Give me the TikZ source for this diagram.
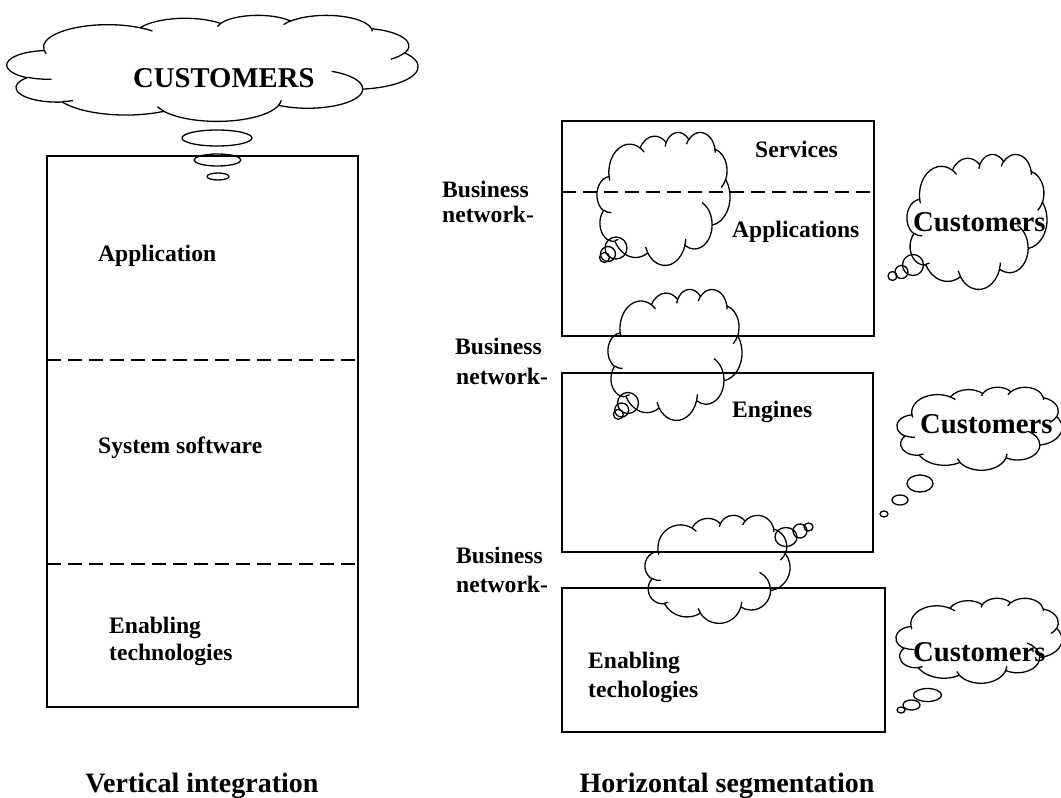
\documentclass[tikz,border=0pt]{standalone}
\usepackage{fontspec}
\setmainfont{Liberation Serif}
% elliptical arc given by visual start angle and sweep (degrees), radii w and h
\newcommand\oarc[4]{arc[start angle={vp(#3,#1,#2)}, end angle={vp(#3+#4,#1,#2)}, x radius=#1, y radius=#2]}
% cloud outline with its inner creases, fitted into the box (#1,#2)-(#3,#4)
\newcommand\cloudshape[4]{%
  \begin{scope}[shift={(#1,#2)}, xscale={(#3-#1)/43.2}, yscale={(#4-#2)/43.2}]
    \draw[cloudline] (3.9,14.37)
      \oarc{6.753}{9.19}{-190.48748}{123.78053}
      \oarc{5.333}{7.267}{-144.10238}{89.94523}
      \oarc{4.365}{5.945}{-145.80792}{99.72302}
      \oarc{4.857}{6.595}{-130.98607}{117.24173}
      \oarc{5.333}{7.273}{-78.70888}{109.02692}
      \oarc{6.775}{9.22}{-46.26725}{130.269}
      \oarc{5.785}{7.867}{0.62502}{114.03333}
      \oarc{6.752}{9.215}{22.4516}{115.17255}
      \oarc{7.72}{10.543}{66.24263}{75.71102}
      \oarc{4.36}{5.918}{-274.94208}{146.73557}
      \oarc{4.345}{5.945}{-246.8285}{152.51885} -- cycle;
    \draw[cloudline]
      (4.693,26.177) \oarc{4.345}{5.945}{86.742}{26.4295}
      (6.928,34.899) \oarc{4.36}{5.918}{73.61047}{11.44747}
      (16.478,39.09) \oarc{6.752}{9.215}{137.62415}{14.0811}
      (28.827,34.751) \oarc{6.752}{9.215}{6.45327}{15.99835}
      (34.129,22.954) \oarc{5.785}{7.867}{-70.29235}{70.91737}
      (41.798,15.354) \oarc{5.333}{7.273}{30.31803}{27.7515}
      (38.324,5.426) \oarc{4.857}{6.595}{-13.74433}{14.8589}
      (29.078,3.952) \oarc{4.857}{6.595}{-149.18145}{18.19537}
      (22.141,4.72) \oarc{4.365}{5.945}{-163.49427}{17.68635}
      (14.0,5.192) \oarc{6.753}{9.19}{-66.70695}{12.31935}
      (4.127,15.789) \oarc{6.753}{9.19}{157.65435}{11.85817};
  \end{scope}}
\begin{document}
\begin{tikzpicture}[x=1pt, y=1pt, yscale=-1,
  frame/.style={draw, line width=1.4pt},
  divider/.style={line width=1.8pt, dash pattern=on 13.5pt off 7.5pt},
  cloudline/.style={line width=1.3pt, line join=round},
  lbl/.style={font=\fontsize{23.6}{26}\selectfont\bfseries, inner sep=0pt, anchor=base west},
  big/.style={font=\fontsize{28.7}{32}\selectfont\bfseries, inner sep=0pt, anchor=base west},
  title/.style={font=\fontsize{28}{32}\selectfont\bfseries, inner sep=0pt, anchor=base},
  declare function={vp(\angA,\radW,\radH)=atan2(\radW*sin(\angA),\radH*cos(\angA))+360*round((\angA-atan2(\radW*sin(\angA),\radH*cos(\angA)))/360);}]
\useasboundingbox (0,0) rectangle (1061,798);

% ---------- vertical integration ----------
\draw[frame] (47,156) rectangle (358,707);
\coordinate (dl1a) at (47,360);  \coordinate (dl1b) at (358,360);
\coordinate (dl2a) at (47,564);  \coordinate (dl2b) at (358,564);
\draw[divider] (dl1a) -- (dl1b);
\draw[divider] (dl2a) -- (dl2b);

\cloudshape{7}{15}{418}{121}
\draw[cloudline] (217,138) ellipse[x radius=35, y radius=8];
\draw[cloudline] (217.5,160) ellipse[x radius=23.5, y radius=6];
\draw[cloudline] (218,176.5) ellipse[x radius=11, y radius=3.5];
\node[big] (custTop) at (133,87) {CUSTOMERS};

\node[lbl] (appL) at (98,261) {Application};
\node[lbl] (sysL) at (98,453) {System software};
\node[lbl] (enL1) at (109,633) {Enabling};
\node[lbl] (enL2) at (109,660) {technologies};
\node[title] (vint) at (202,792) {Vertical integration};

% ---------- horizontal segmentation ----------
\draw[frame] (562,121) rectangle (874,336);
\draw[frame] (562,373) rectangle (873,552);
\draw[frame] (562,588) rectangle (885,732);
\coordinate (dr1a) at (562,192); \coordinate (dr1b) at (874,192);
\draw[divider] (dr1a) -- (dr1b);

\node[lbl] (serv) at (755,157) {Services};
\node[lbl] (apps) at (732,237) {Applications};
\node[lbl] (eng) at (732,417) {Engines};
\node[lbl] (enR1) at (588,668) {Enabling};
\node[lbl] (enR2) at (588,697) {techologies};

\node[lbl] (bn1a) at (442,197) {Business};
\node[lbl] (bn1b) at (442,222) {network-};
\node[lbl] (bn2a) at (455,354) {Business};
\node[lbl] (bn2b) at (456,384) {network-};
\node[lbl] (bn3a) at (456,563) {Business};
\node[lbl] (bn3b) at (456,592) {network-};

% business-network clouds
\cloudshape{597}{132}{730}{265}
\draw[cloudline] (616,248) circle[radius=11];
\draw[cloudline] (608,254) circle[radius=7.5];
\draw[cloudline] (604.5,257.5) circle[radius=5];

\cloudshape{608}{289}{742}{420}
\draw[cloudline] (628,403) circle[radius=10.5];
\draw[cloudline] (621.7,410) circle[radius=7];
\draw[cloudline] (618.3,414.3) circle[radius=5];

\cloudshape{645}{515}{790}{623}
\draw[cloudline] (786,537) ellipse[x radius=11, y radius=9.5];
\draw[cloudline] (800,531) circle[radius=7];
\draw[cloudline] (808.5,527) ellipse[x radius=4.5, y radius=4];

% customer clouds
\cloudshape{907}{154}{1047}{289}
\draw[cloudline] (913,265) circle[radius=10.5];
\draw[cloudline] (901.5,272) circle[radius=6.5];
\draw[cloudline] (892.5,276) circle[radius=4.5];
\node[big] (cust1) at (913,231) {Customers};

\cloudshape{897}{387}{1062}{470}
\draw[cloudline] (920,483.5) ellipse[x radius=13, y radius=8.5];
\draw[cloudline] (900,500) ellipse[x radius=8, y radius=5];
\draw[cloudline] (884,514) ellipse[x radius=4, y radius=3];
\node[big] (cust2) at (920,433) {Customers};

\cloudshape{896}{598}{1062}{683}
\draw[cloudline] (927.5,695) ellipse[x radius=14, y radius=6.5];
\draw[cloudline] (911.5,705) ellipse[x radius=8.5, y radius=5];
\draw[cloudline] (901,710) ellipse[x radius=4, y radius=3];
\node[big] (cust3) at (913,661) {Customers};

\node[title] (hseg) at (727,792) {Horizontal segmentation};
\end{tikzpicture}
\end{document}
